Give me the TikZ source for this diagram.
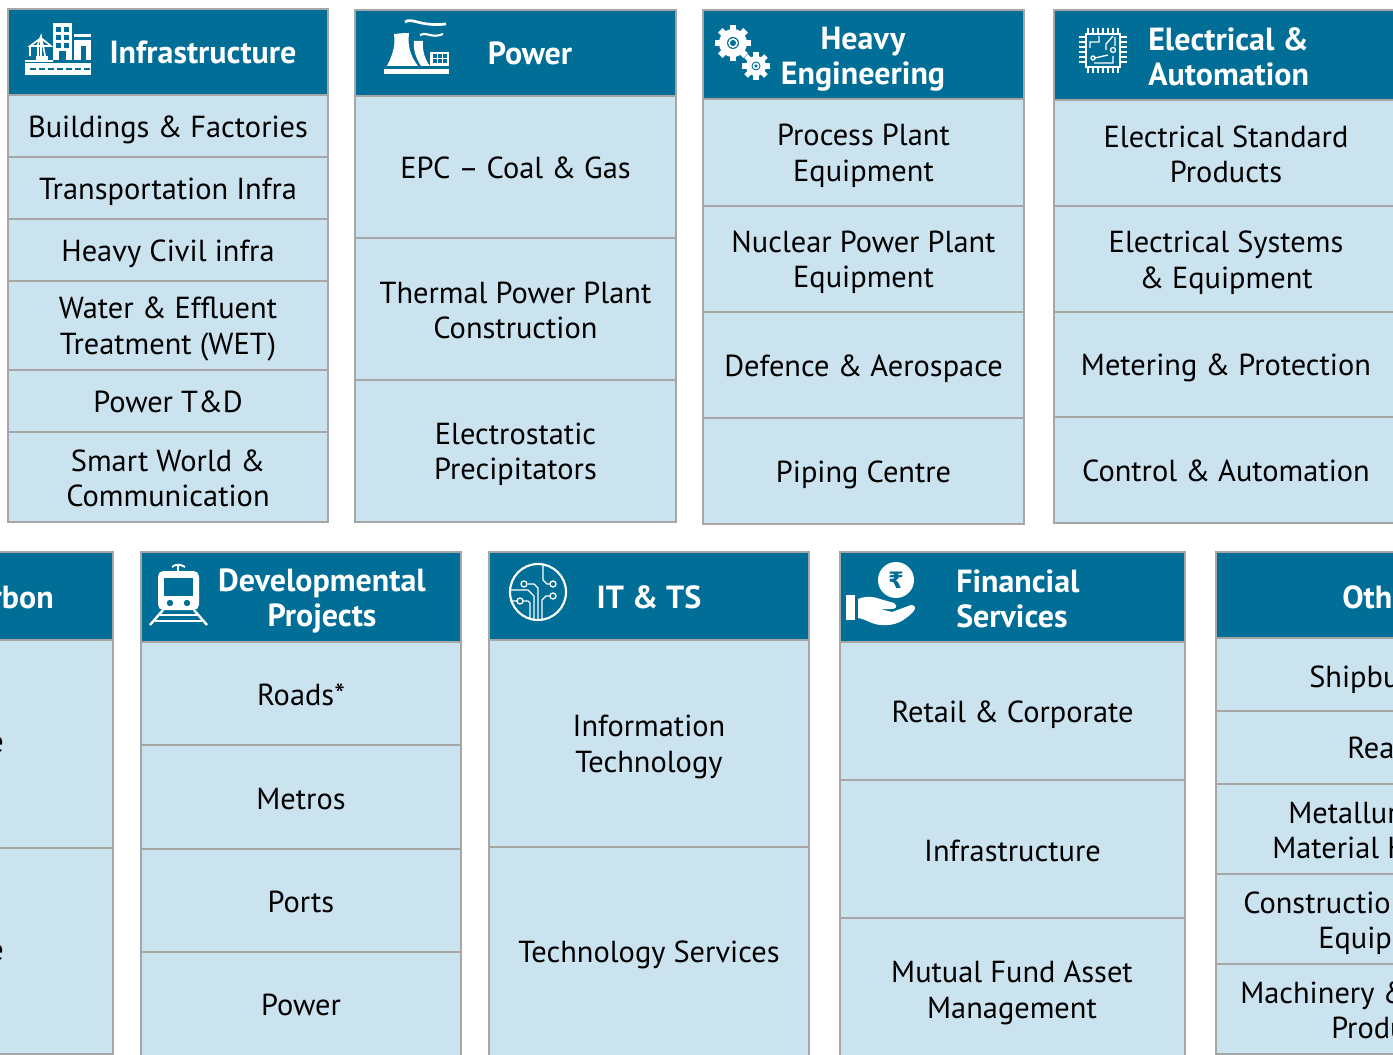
\documentclass[tikz,border=0pt]{standalone}
\usepackage{fontspec}
\setmainfont{PT Sans}
\newfontfamily\rupeefont{DejaVu Sans}
\definecolor{headblue}{HTML}{006E96}
\definecolor{cellblue}{HTML}{CBE2EF}
\definecolor{edgegrey}{HTML}{A6A6A6}
\newcommand{\boxcell}[7]{%
  \pgfmathsetmacro{\cw}{(#4-#2)*0.75}\pgfmathsetmacro{\ch}{(#5-#3)*0.75}%
  \node[#6,minimum width=\cw pt,minimum height=\ch pt] (#1) at ({(#2+#4)/2},{(#3+#5)/2}) {#7};}
\newcommand{\twocell}[6]{%
  \boxcell{#1}{#2}{#3}{#4}{#5}{bodycell}{}%
  \node[basecell,draw=none,text=black] (#1t) at ({(#2+#4)/2},{(#3+#5)/2+3.5}) {#6};}
\newcommand{\bodystrut}{\rule[-3.5pt]{0pt}{25pt}}
\newcommand{\lowstrut}{\rule[-3.5pt]{0pt}{23.5pt}}
\newcommand{\headstrut}{\rule[-4pt]{0pt}{26pt}}
\newcommand{\headlow}{\rule[-4pt]{0pt}{23pt}}
\tikzset{
  x=0.75pt,y=-0.75pt,
  basecell/.style={draw=edgegrey,line width=2.2pt,inner sep=0pt,outer sep=0pt,align=center,font=\fontsize{22.8pt}{26.6pt}\selectfont,execute at begin node=\bodystrut,execute at end node=\lowstrut},
  headcell/.style={basecell,fill=headblue},
  bodycell/.style={basecell,fill=cellblue,text=black},
  headtext/.style={text=white,inner sep=0pt,font=\fontsize{24pt}{26.3pt}\selectfont\bfseries,align=center,execute at begin node=\headstrut,execute at end node=\headlow},
  headleft/.style={headtext,align=left},
  cuttext/.style={text=black,inner sep=0pt,font=\fontsize{22.8pt}{26.6pt}\selectfont,anchor=base west},
  icon/.style={fill=white,draw=none},
  iconline/.style={draw=white,line width=1.2pt,fill=none},
  hole/.style={fill=headblue,draw=none},
}
\begin{document}
\begin{tikzpicture}
\useasboundingbox (0,0) rectangle (1393,1055);
\clip (0,0) rectangle (1393,1055);
% Infrastructure
\boxcell{ia}{8}{9}{328}{95}{headcell}{}
\boxcell{ib}{8}{95}{328}{157}{bodycell}{Buildings \& Factories}
\boxcell{ic}{8}{157}{328}{219}{bodycell}{Transportation Infra}
\boxcell{id}{8}{219}{328}{281}{bodycell}{Heavy Civil infra}
\twocell{ie}{8}{281}{328}{370}{Water \& Effluent\\Treatment (WET)}
\boxcell{if}{8}{370}{328}{432}{bodycell}{Power T\&D}
\twocell{ig}{8}{432}{328}{522}{Smart World \&\\Communication}
\node[headtext] (it) at (203,52) {Infrastructure};
% Power
\boxcell{pa}{355}{10}{676}{96}{headcell}{}
\boxcell{pb}{355}{96}{676}{238}{bodycell}{EPC – Coal \& Gas}
\twocell{pc}{355}{238}{676}{380}{Thermal Power Plant\\Construction}
\twocell{pd}{355}{380}{676}{522}{Electrostatic\\Precipitators}
\node[headtext] (pt) at (530,53) {Power};
% Heavy
\boxcell{ha}{703}{10}{1024}{99}{headcell}{}
\twocell{hb}{703}{99}{1024}{206}{Process Plant\\Equipment}
\twocell{hc}{703}{206}{1024}{312}{Nuclear Power Plant\\Equipment}
\boxcell{hd}{703}{312}{1024}{418}{bodycell}{Defence \& Aerospace}
\boxcell{he}{703}{418}{1024}{524}{bodycell}{Piping Centre}
\node[headtext] (ht) at (863,59) {Heavy\\Engineering};
% Electrical
\boxcell{ea}{1054}{10}{1398}{100}{headcell}{}
\twocell{eb}{1054}{100}{1398}{206}{Electrical Standard\\Products}
\twocell{ec}{1054}{206}{1398}{312}{Electrical Systems\\\& Equipment}
\boxcell{ed}{1054}{312}{1398}{417}{bodycell}{Metering \& Protection}
\boxcell{ee}{1054}{417}{1398}{523}{bodycell}{Control \& Automation}
\node[headleft,anchor=west] (et) at (1148,59) {Electrical \&\\Automation};
% Carbon
\boxcell{ca}{-10}{552}{113}{640}{headcell}{}
\boxcell{cb}{-10}{640}{113}{848}{bodycell}{}
\boxcell{cc}{-10}{848}{113}{1054}{bodycell}{}
\node[headtext,anchor=east] (ct) at (54,596) {rbon};
\node[cuttext,anchor=base east] (cu) at (4,752) {e};
\node[cuttext,anchor=base east] (cv) at (4,960) {e};
% Developmental
\boxcell{da}{141}{552}{461}{642}{headcell}{}
\boxcell{db}{141}{642}{461}{745}{bodycell}{Roads*}
\boxcell{dc}{141}{745}{461}{849}{bodycell}{Metros}
\boxcell{dd}{141}{849}{461}{952}{bodycell}{Ports}
\boxcell{de}{141}{952}{461}{1060}{bodycell}{}
\node[basecell,draw=none,text=black] (df) at (301,1003) {Power};
\node[headtext] (dt) at (322,601) {Developmental\\Projects};
% IT
\boxcell{ta}{489}{552}{809}{640}{headcell}{}
\twocell{tb}{489}{640}{809}{847}{Information\\Technology}
\boxcell{tc}{489}{847}{809}{1058}{bodycell}{}
\node[basecell,draw=none,text=black] (td) at (649,951) {Technology Services};
\node[headtext] (tt) at (649,596) {IT \& TS};
% Financial
\boxcell{fa}{840}{552}{1185}{642}{headcell}{}
\boxcell{fb}{840}{642}{1185}{780}{bodycell}{Retail \& Corporate}
\boxcell{fc}{840}{780}{1185}{918}{bodycell}{Infrastructure}
\boxcell{fd}{840}{918}{1185}{1060}{bodycell}{}
\node[basecell,draw=none,text=black] (fe) at (1012,993) {Mutual Fund Asset\\Management};
\node[headleft,anchor=west] (ft) at (956,601) {Financial\\Services};
% Others
\boxcell{oa}{1216}{552}{1400}{638}{headcell}{}
\boxcell{ob}{1216}{638}{1400}{711}{bodycell}{}
\boxcell{oc}{1216}{711}{1400}{784}{bodycell}{}
\boxcell{od}{1216}{784}{1400}{874}{bodycell}{}
\boxcell{oe}{1216}{874}{1400}{964}{bodycell}{}
\boxcell{of}{1216}{964}{1400}{1054}{bodycell}{}
\node[headtext,anchor=west] (ot) at (1342,596) {Oth};
\node[cuttext] (o1) at (1309,687) {Shipbu};
\node[cuttext] (o2) at (1347,758) {Rea};
\node[cuttext] (o3) at (1288,823) {Metallur};
\node[cuttext] (o4) at (1272,858) {Material H};
\node[cuttext] (o5) at (1243,913) {Constructio};
\node[cuttext] (o6) at (1318,948) {Equipr};
\node[cuttext] (o7) at (1240,1003) {Machinery \&};
\node[cuttext] (o8) at (1331,1038) {Produ};
% --- icon: infrastructure
\fill[icon] (25,63) rectangle (91,75);
\foreach \q in {30,39,48,57,66,75,84} \fill[hole] (\q,68) rectangle (\q+6,70);
\fill[icon] (53,23) rectangle (72,60);
\foreach \q in {56,64} \foreach \r in {27,35,43} \fill[hole] (\q,\r) rectangle (\q+5,\r+5);
\fill[hole] (59,51) rectangle (66,60);
\fill[icon] (74,40) rectangle (91,60);
\fill[icon] (74,34) rectangle (91,37);
\fill[hole] (81,46) rectangle (86,60);
\draw[iconline] (41,60) -- (41,36) (38,60) -- (38,44) -- (41,36) -- (46,60)
  (30,46) -- (41,38) -- (51,46) -- cycle (30,46) -- (30,56) (25,61) -- (53,61);
\fill[icon] (36,56) rectangle (48,61);
% --- icon: power
\fill[icon] (384,69) rectangle (449,74);
\fill[icon] (394,34) .. controls (397,34) and (400,33) .. (409,33) .. controls (407,48) and (412,58) .. (418,66) -- (387,66) .. controls (392,56) and (396,46) .. (394,34) -- cycle;
\fill[icon] (414,41) -- (423,41) .. controls (422,50) and (425,60) .. (430,66) -- (421,66) .. controls (416,58) and (413,50) .. (414,41) -- cycle;
\fill[icon] (430,52) rectangle (449,66);
\foreach \q in {433,438,443} \foreach \r in {54,59} \fill[hole] (\q,\r) rectangle (\q+4,\r+4);
\draw[draw=white,line width=2pt] (405,22) .. controls (412,17) and (420,27) .. (446,24);
\draw[draw=white,line width=1.6pt] (420,35) .. controls (425,31) and (432,39) .. (443,34);
% --- icon: gears
\foreach \cx/\cy/\R/\hr/\tw in {733/43/14/6/3.2,756/66/10/4.5/2.6}{%
  \foreach \a in {0,45,...,315}{
    \fill[icon,rotate around={\a:(\cx,\cy)}] (\cx-\tw,\cy-\R-4) rectangle (\cx+\tw,\cy);}
  \fill[icon] (\cx,\cy) circle[radius=\R];
  \fill[hole] (\cx,\cy) circle[radius=\hr];
  \draw[white,line width=1.2pt] (\cx,\cy) circle[radius=\hr-2];
}
% --- icon: chip
\draw[white,line width=1.8pt] (1086,34) rectangle (1120,67);
\foreach \q in {1088,1093,1098,1103,1108,1113,1118} {\draw[white,line width=1.2pt] (\q,28) -- (\q,33) (\q,68) -- (\q,73);}
\foreach \q in {37,42,47,52,57,62} {\draw[white,line width=1.4pt] (1079,\q) -- (1085,\q) (1121,\q) -- (1127,\q);}
\draw[white,line width=1pt] (1090,48) -- (1090,42) -- (1099,42) -- (1099,36) (1095,58) -- (1108,55)
  (1113,36) -- (1106,44) -- (1106,50) (1113,56) -- (1113,63) -- (1094,63) (1115,37) -- (1115,46);
\draw[white,line width=1pt] (1113,50) circle[radius=2.5] (1093,58) circle[radius=2];
% --- icon: IT
\draw[white,line width=1.6pt] (538,592) circle[radius=28];
\draw[white,line width=1pt] (510,590) -- (528,590) -- (534,596) -- (534,620)
  (510,601) -- (518,601) (523,601) -- (528,601) -- (530,603) -- (530,618)
  (528,584) -- (534,584) -- (538,588) -- (538,620)
  (542,620) -- (542,600) -- (546,596) -- (550,596)
  (543,565) -- (543,580) -- (547,584) -- (550,584);
\draw[white,line width=1pt] (524,584) circle[radius=3] (520,601) circle[radius=3] (553,584) circle[radius=3] (553,596) circle[radius=3];
% --- icon: train
\fill[icon,rounded corners=4pt] (158,571) rectangle (199,610);
\fill[hole] (164,578) rectangle (193,596);
\fill[hole] (170,603) circle[radius=3.2];
\fill[hole] (187,603) circle[radius=3.2];
\draw[white,line width=1.4pt] (178,571) -- (178,566) (172,567) .. controls (175,564) and (181,564) .. (185,567);
\draw[white,line width=1.8pt] (163,610) -- (150,625) (194,610) -- (207,625);
\draw[white,line width=1.6pt] (160,615) -- (197,615) (155,621) -- (202,621);
% --- icon: rupee + hand
\fill[icon] (896,580) circle[radius=18];
\node[inner sep=0pt,text=headblue,font=\fontsize{17pt}{17pt}\rupeefont\bfseries] (ru) at (896,580) {₹};
\fill[icon] (846,595) rectangle (855,620);
\fill[icon] (858,599) .. controls (866,596) and (872,596) .. (880,599) -- (894,603) .. controls (899,606) and (895,610) .. (890,609) -- (880,609) -- (892,612) -- (911,605) .. controls (916,605) and (916,609) .. (913,612) .. controls (903,622) and (894,626) .. (882,625) .. controls (872,625) and (866,619) .. (858,618) -- cycle;
\end{tikzpicture}
\end{document}
